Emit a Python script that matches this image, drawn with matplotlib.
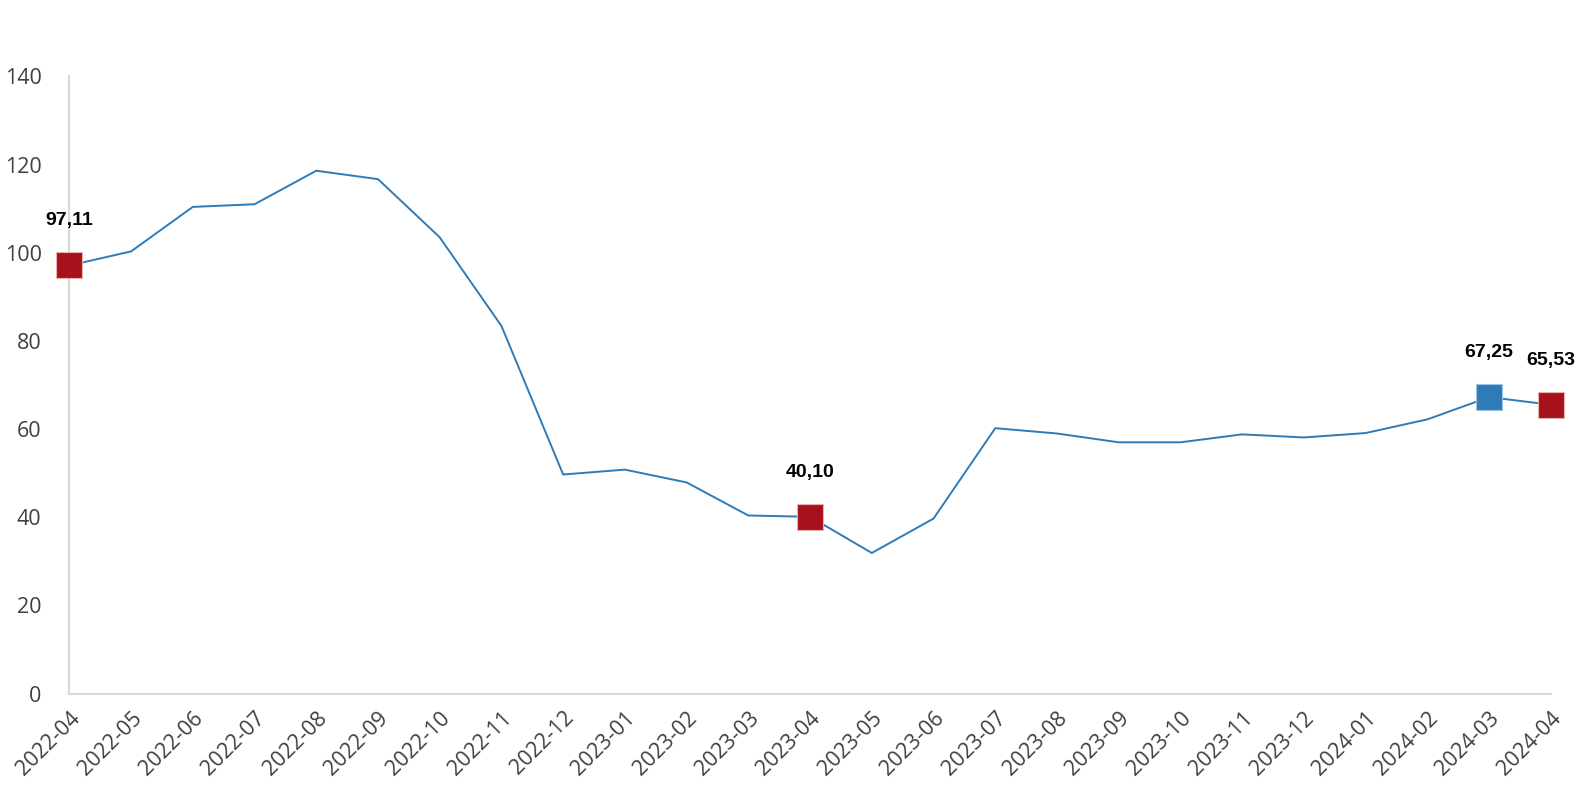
import matplotlib
matplotlib.use("Agg")
import matplotlib.pyplot as plt

months = ["2022-04", "2022-05", "2022-06", "2022-07", "2022-08", "2022-09", "2022-10",
          "2022-11", "2022-12", "2023-01", "2023-02", "2023-03", "2023-04", "2023-05",
          "2023-06", "2023-07", "2023-08", "2023-09", "2023-10", "2023-11", "2023-12",
          "2024-01", "2024-02", "2024-03", "2024-04"]
values = [97.11, 100.3, 110.4, 111.0, 118.6, 116.7, 103.5, 83.4, 49.7, 50.8, 47.9,
          40.4, 40.10, 31.9, 39.7, 60.2, 59.0, 57.0, 57.0, 58.8, 58.1, 59.1, 62.2,
          67.25, 65.53]
highlight_idx = [0, 12, 23, 24]
highlight_colors = ["#A6121B", "#A6121B", "#2E7BB8", "#A6121B"]
highlight_labels = ["97,11", "40,10", "67,25", "65,53"]
yticks = [0, 20, 40, 60, 80, 100, 120, 140]

fig = plt.figure(figsize=(15.76, 8.0), dpi=100)
ax = fig.add_axes([0.044, 0.133, 0.940, 0.7715])
x = list(range(len(months)))
ax.plot(x, values, color="#2E7BB8", lw=1.4, zorder=2)
for i, c, lab in zip(highlight_idx, highlight_colors, highlight_labels):
    ax.plot([i], [values[i]], marker="s", ms=18.5, color=c,
            mec="#E8B0B0" if c != "#2E7BB8" else "#9CC3E3",
            mew=0.8, zorder=3, clip_on=False)
    ax.annotate(lab, (i, values[i]), xytext=(0, 26), textcoords="offset points",
                ha="center", va="bottom", fontsize=14, fontweight="bold",
                family="Liberation Sans", color="#000000", annotation_clip=False)

ax.set_xlim(0, len(months) - 1)
ax.set_ylim(0, 140)
ax.set_yticks(yticks)
ax.set_xticks(x)
ax.set_xticklabels(months, rotation=45, ha="right", rotation_mode="anchor",
                   fontsize=15.5, family="Open Sans", color="#404040")
for t in ax.get_yticklabels():
    t.set_fontsize(15.5)
    t.set_family("Open Sans")
    t.set_color("#404040")
ax.tick_params(axis="both", length=0)
ax.tick_params(axis="y", pad=20)
ax.tick_params(axis="x", pad=10)
for s in ["top", "right"]:
    ax.spines[s].set_visible(False)
for s in ["left", "bottom"]:
    ax.spines[s].set_color("#D9D9D9")
    ax.spines[s].set_linewidth(1.5)

fig.savefig("out.png", dpi=100)
